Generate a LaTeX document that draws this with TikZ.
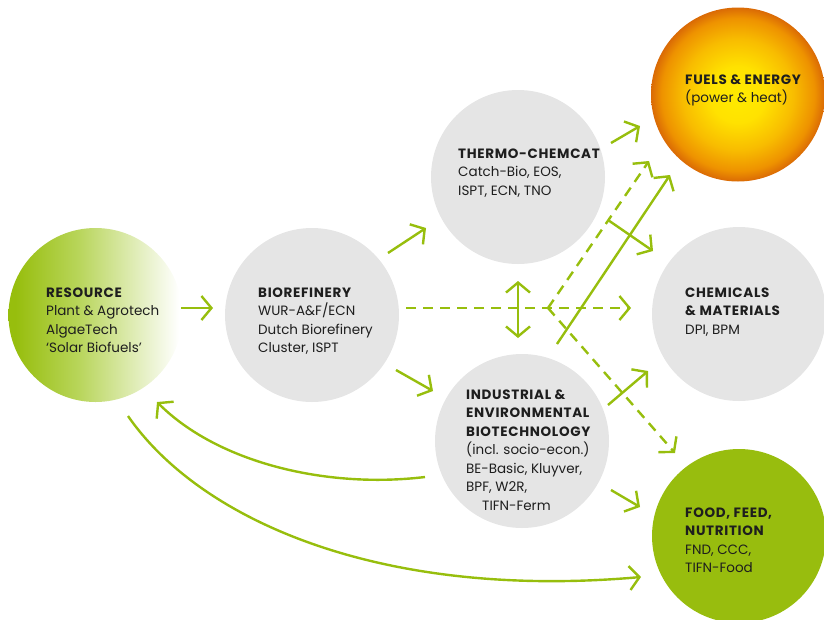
\documentclass[tikz,border=0pt]{standalone}
\usepackage{fontspec}
\setmainfont{Poppins}
\usetikzlibrary{arrows.meta}
\definecolor{grn}{HTML}{97BE0D}
\definecolor{foodgrn}{HTML}{98BD0E}
\definecolor{circgray}{HTML}{E5E5E5}
\definecolor{txt}{HTML}{1E1E1E}
\definecolor{fyA}{HTML}{FFEB00}
\definecolor{fyB}{HTML}{FFE200}
\definecolor{fyC}{HTML}{F8BC00}
\definecolor{fyD}{HTML}{EE9200}
\definecolor{fyE}{HTML}{DA6A05}
\definecolor{rgA}{HTML}{B8D55A}
\newcommand\hdtext[1]{{\bfseries\addfontfeatures{LetterSpace=5}#1}}
\pgfdeclareradialshading{fuelshade}{\pgfpoint{0bp}{0bp}}{color(0bp)=(fyA); color(8bp)=(fyB); color(16bp)=(fyC); color(22bp)=(fyD); color(25bp)=(fyE); color(50bp)=(fyE)}
\pgfdeclarehorizontalshading{resshade}{100bp}{color(0bp)=(grn); color(27bp)=(grn); color(45bp)=(rgA); color(74bp)=(white); color(100bp)=(white)}
\tikzset{
  circ/.style={circle, minimum size=174pt, inner sep=0pt, outer sep=0pt},
  lbl/.style={align=left, inner sep=0pt, anchor=base west, text=txt, font=\fontsize{13.5}{18.5}\selectfont},
  arr/.style={draw=grn, line width=2.4pt, -{Straight Barb[length=10pt,width=24pt]}},
  dsh/.style={arr, dash pattern=on 10pt off 7pt},
  dbl/.style={draw=grn, line width=2.4pt, {Straight Barb[length=10pt,width=24pt]}-{Straight Barb[length=10pt,width=24pt]}}
}
\begin{document}
\begin{tikzpicture}[x=1pt, y=-1pt]
\useasboundingbox (0,0) rectangle (824,619);
\clip (0,0) rectangle (824,619);
% circles
\node[circ, shading=resshade] (res) at (95.5,315) {};
\node[circ, fill=circgray] (bio) at (312,315) {};
\node[circ, fill=circgray] (thermo) at (518,177) {};
\node[circ, fill=circgray] (ind) at (522,441) {};
\node[circ, fill=circgray] (chem) at (739,314) {};
\node[circ, shading=fuelshade] (fuel) at (738,94.5) {};
\node[circ, fill=foodgrn] (food) at (739,536) {};
% texts (anchored at the baseline of the last line)
\node[lbl] (restxt) at (46,352.5) {\hdtext{RESOURCE}\\Plant \& Agrotech\\AlgaeTech\\‘Solar Biofuels’};
\node[lbl] (biotxt) at (258,352.5) {\hdtext{BIOREFINERY}\\WUR-A\&F/ECN\\Dutch Biorefinery\\Cluster, ISPT};
\node[lbl] (thermotxt) at (458,195) {\hdtext{THERMO-CHEMCAT}\\Catch-Bio, EOS,\\ISPT, ECN, TNO};
\node[lbl] (indtxt) at (466,510) {\hdtext{INDUSTRIAL \&}\\\hdtext{ENVIRONMENTAL}\\\hdtext{BIOTECHNOLOGY}\\(incl. socio-econ.)\\BE-Basic, Kluyver,\\BPF, W2R,\\\hspace*{16pt}TIFN-Ferm};
\node[lbl] (chemtxt) at (685,334) {\hdtext{CHEMICALS}\\\hdtext{\& MATERIALS}\\DPI, BPM};
\node[lbl] (fueltxt) at (685,102.5) {\hdtext{FUELS \& ENERGY}\\(power \& heat)};
\node[lbl] (foodtxt) at (685,572.5) {\hdtext{FOOD, FEED,}\\\hdtext{NUTRITION}\\FND, CCC,\\TIFN-Food};
% connector ends
\coordinate (a1s) at (181,308); \coordinate (a1e) at (213,308);
\coordinate (a2s) at (388,253); \coordinate (a2e) at (426,228);
\coordinate (a3s) at (396,370); \coordinate (a3e) at (433,391);
\coordinate (a4s) at (406,308); \coordinate (a4e) at (631,308);
\coordinate (a5s) at (518,281); \coordinate (a5e) at (518,338);
\coordinate (fork) at (548,308);
\coordinate (a6e) at (649,161);
\coordinate (a7e) at (675,453);
\coordinate (a8s) at (557,344); \coordinate (a8e) at (670,175);
\coordinate (a9s) at (608,220); \coordinate (a9e) at (653,251);
\coordinate (a10s) at (611,143); \coordinate (a10e) at (640,126);
\coordinate (a11s) at (608,405); \coordinate (a11e) at (648,371);
\coordinate (a12s) at (611,490); \coordinate (a12e) at (640,507);
\coordinate (a13s) at (425,477); \coordinate (a13e) at (157,402);
\coordinate (a14s) at (128,416); \coordinate (a14e) at (641,577);
% connectors
\draw[arr] (a1s) -- (a1e);
\draw[arr] (a2s) -- (a2e);
\draw[arr] (a3s) -- (a3e);
\draw[dsh] (a4s) -- (a4e);
\draw[dbl] (a5s) -- (a5e);
\draw[dsh] (fork) -- (a6e);
\draw[dsh] (fork) -- (a7e);
\draw[arr] (a8s) -- (a8e);
\draw[arr] (a9s) -- (a9e);
\draw[arr] (a10s) -- (a10e);
\draw[arr] (a11s) -- (a11e);
\draw[arr] (a12s) -- (a12e);
\draw[arr] (a13s) .. controls (325,489) and (217,462) .. (a13e);
\draw[arr] (a14s) .. controls (200,520) and (380,600) .. (a14e);
\end{tikzpicture}
\end{document}
